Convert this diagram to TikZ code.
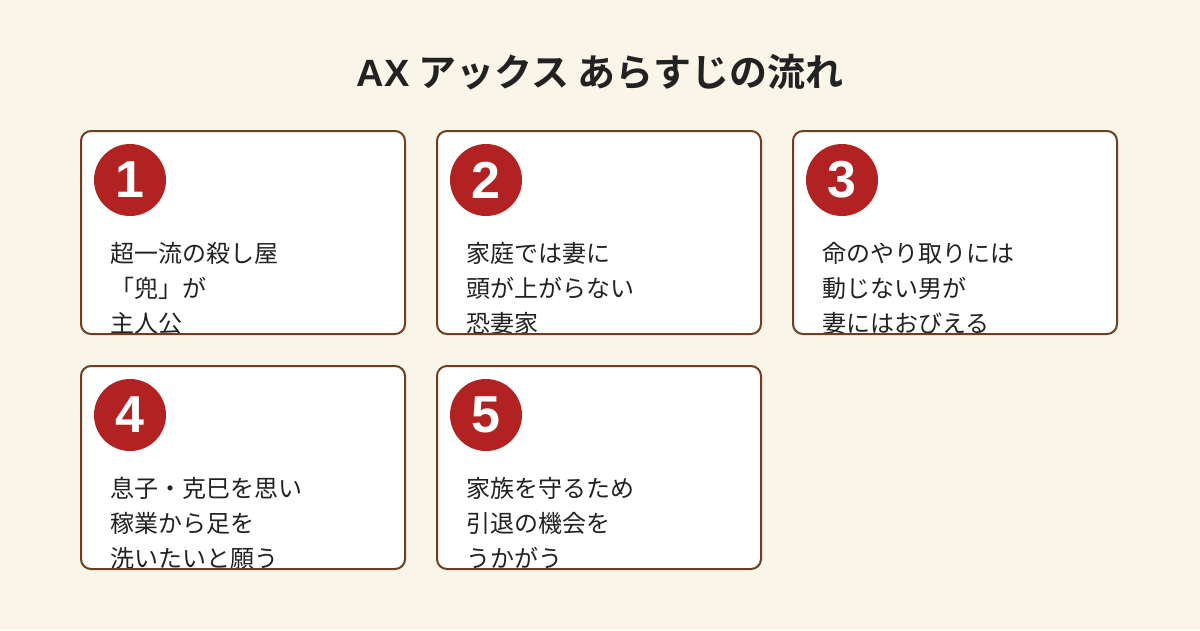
\documentclass[tikz,border=0pt]{standalone}
\usepackage{fontspec}
\setmainfont{Noto Sans CJK JP}
\newfontfamily\jpbold{Noto Sans CJK JP Bold}
\newfontfamily\numfont{Liberation Sans}
\definecolor{bg}{HTML}{FAF5E9}
\definecolor{brd}{HTML}{6B3F1F}
\definecolor{redc}{HTML}{B22222}
\definecolor{txt}{HTML}{222222}
\tikzset{
  card/.style={draw=brd, line width=2pt, rounded corners=10pt},
  badge/.style={circle, fill=redc, minimum size=72pt, inner sep=0pt, text=white, font=\numfont\bfseries\fontsize{52}{52}\selectfont},
  body/.style={anchor=north west, align=left, text=txt, inner sep=0pt, font=\fontsize{24}{35}\selectfont}
}
\newcommand{\mycard}[5]{%
  \begin{scope}
    \clip[rounded corners=10pt] (#1,#2) rectangle ++(324,203);
    \fill[white] (#1,#2) rectangle ++(324,203);
    \node[body] (t#3) at ($(#1,#2)+(29,111)$) {#5};
  \end{scope}
  \draw[card] (#1,#2) rectangle ++(324,203);
  \node[badge] (b#3) at ($(#1,#2)+(49,49)$) {#4};
}
\usetikzlibrary{calc}
\begin{document}
\begin{tikzpicture}[x=1pt,y=-1pt]
\fill[bg] (0,0) rectangle (1200,630);
\useasboundingbox (0,0) rectangle (1200,630);
\node[font=\jpbold\fontsize{38}{38}\selectfont, text=txt] (title) at (600,72) {{\numfont\bfseries AX} アックス あらすじの流れ};
\mycard{81}{131}{1}{1}{超一流の殺し屋\\「兜」が\\主人公}
\mycard{437}{131}{2}{2}{家庭では妻に\\頭が上がらない\\恐妻家}
\mycard{793}{131}{3}{3}{命のやり取りには\\動じない男が\\妻にはおびえる}
\mycard{81}{366}{4}{4}{息子・克巳を思い\\稼業から足を\\洗いたいと願う}
\mycard{437}{366}{5}{5}{家族を守るため\\引退の機会を\\うかがう}
\end{tikzpicture}
\end{document}
